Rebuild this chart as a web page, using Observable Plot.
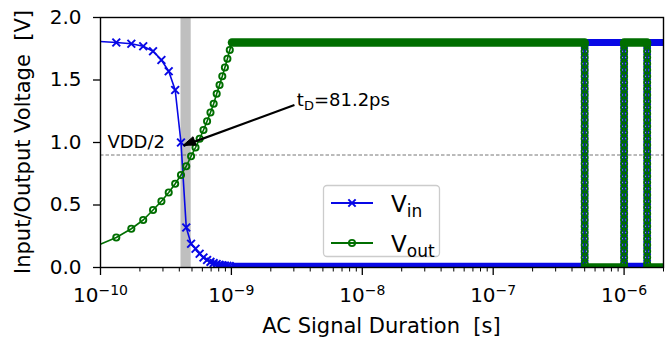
<!DOCTYPE html>
<html><head><meta charset="utf-8">
<script src="https://cdn.jsdelivr.net/npm/d3@7"></script>
<script src="https://cdn.jsdelivr.net/npm/@observablehq/plot@0.6"></script>
<style>
html,body{margin:0;padding:0;background:#fff;}
#chart{width:670px;height:340px;overflow:hidden;}
svg{font-family:"DejaVu Sans",sans-serif;}
</style></head><body><div id="chart"></div>
<script>
// ---- data ----
const sweepTime = [0.92e-10, 1.32e-10, 1.72e-10, 2.12e-10, 2.52e-10, 2.92e-10, 3.32e-10, 3.72e-10,
  4.12e-10, 4.52e-10, 4.92e-10, 5.32e-10, 5.72e-10, 6.12e-10, 6.52e-10, 6.92e-10, 7.32e-10,
  7.72e-10, 8.12e-10, 8.52e-10, 8.92e-10, 9.32e-10, 9.72e-10];
const vinSweep = [1.81, 1.80, 1.79, 1.77, 1.73, 1.66, 1.57, 1.42, 1.00, 0.32, 0.19, 0.15, 0.11,
  0.08, 0.06, 0.045, 0.035, 0.028, 0.022, 0.018, 0.015, 0.013, 0.011];
const voutSweep = [0.17, 0.24, 0.31, 0.38, 0.46, 0.53, 0.60, 0.67, 0.74, 0.81, 0.89, 0.96, 1.03,
  1.10, 1.17, 1.24, 1.31, 1.39, 1.46, 1.53, 1.60, 1.67, 1.74];
const plateauEdges = [1.01e-9, 5e-7, 1e-6, 1.5e-6, 2e-6];
const vinPlateaus = [0.01, 1.8, 0.01, 1.8];
const voutPlateaus = [1.8, 0.0, 1.8, 0.0];
const switchTimes = [5e-7, 1e-6, 1.5e-6];
const switchLevels = [1.78, 1.73, 1.68, 1.63, 1.58, 1.53, 1.48, 1.43, 1.38, 1.33, 1.28, 1.23, 1.18,
  1.13, 1.08, 1.03, 0.98, 0.93, 0.88, 0.83, 0.78, 0.73, 0.68, 0.63, 0.58, 0.53, 0.48, 0.43, 0.38,
  0.33, 0.28, 0.23, 0.18, 0.13, 0.08, 0.03];
const delayBand = [4.12e-10, 4.932e-10];
const vddHalf = 0.9;
const xMajorTicks = [1e-10, 1e-9, 1e-8, 1e-7, 1e-6];
const yTicks = [0, 0.5, 1.0, 1.5, 2.0];
const xLabel = "AC Signal Duration\u00a0 [s]";
const yLabel = "Input/Output Voltage\u00a0 [V]";
const vddLabel = "VDD/2";
const tdLabel = ["t", "D", "=81.2ps"];
const legendLabels = [["V", "in"], ["V", "out"]];
const arrowTail = {x: 3.03e-9, y: 1.30};
const arrowTip = {x: 4.33e-10, y: 0.975};
const tdAnchor = {x: 3.19e-9, y: 1.288};
const vddAnchor = {x: 1.13e-10, y: 1.006};

// ---- styles ----
const BLUE = "#0808e6", GREEN = "#006e00", FONT = "DejaVu Sans";

// ---- tables built from the arrays ----
const sweepRows = sweepTime.map((t, i) => ({t, vin: vinSweep[i], vout: voutSweep[i]}));
const plateauRows = vinPlateaus.map((v, j) => ({t1: plateauEdges[j], t2: plateauEdges[j + 1], vin: v, vout: voutPlateaus[j]}));
function pathOf(key) {
  const pts = sweepRows.map(r => ({t: r.t, v: r[key]}));
  plateauRows.forEach(p => { pts.push({t: p.t1, v: p[key]}); pts.push({t: p.t2, v: p[key]}); });
  return pts;
}
const vinPath = pathOf("vin"), voutPath = pathOf("vout");
const switchRows = switchTimes.flatMap(t => switchLevels.map(v => ({t, v})));
const minorTicks = xMajorTicks.flatMap(d => [2,3,4,5,6,7,8,9].map(k => k * d)).filter(v => v <= 2e-6);
const expTwo = xMajorTicks.filter(d => Math.round(Math.log10(d)) <= -10);
const expOne = xMajorTicks.filter(d => Math.round(Math.log10(d)) > -10);
const expFmt = d => "\u2212" + String(-Math.round(Math.log10(d)));

const plot = Plot.plot({
  width: 670, height: 340,
  marginLeft: 100, marginRight: 7, marginTop: 17, marginBottom: 73,
  style: {fontFamily: FONT, background: "white", color: "black"},
  x: {type: "log", domain: [1e-10, 2e-6]},
  y: {domain: [0, 2]},
  marks: [
    Plot.rect([delayBand], {x1: d => d[0], x2: d => d[1], y1: 0, y2: 2, fill: "#bfbfbf"}),
    Plot.ruleY([vddHalf], {stroke: "#666", strokeWidth: 0.9, strokeDasharray: "3.5,2"}),
    // Vin
    Plot.line(vinPath, {x: "t", y: "v", stroke: BLUE, strokeWidth: 1.6, clip: true}),
    Plot.link(plateauRows, {x1: "t1", x2: "t2", y1: "vin", y2: "vin", stroke: BLUE, strokeWidth: 7, strokeLinecap: "butt", clip: true}),
    Plot.dot(sweepRows, {x: "t", y: "vin", symbol: "times", r: 3.6, stroke: BLUE, strokeWidth: 2, clip: true}),
    Plot.dot(switchRows, {x: "t", y: "v", symbol: "times", r: 3.2, stroke: BLUE, strokeWidth: 1.8, clip: true}),
    // Vout
    Plot.line(voutPath, {x: "t", y: "v", stroke: GREEN, strokeWidth: 1.6, clip: true}),
    Plot.link(plateauRows, {x1: "t1", x2: "t2", y1: "vout", y2: "vout", stroke: GREEN, strokeWidth: 8.5, strokeLinecap: "round", clip: true}),
    Plot.dot(sweepRows, {x: "t", y: "vout", symbol: "circle", r: 3.1, stroke: GREEN, fill: "none", strokeWidth: 1.9, clip: true}),
    Plot.dot(switchRows, {x: "t", y: "v", symbol: "circle", r: 3.1, stroke: GREEN, fill: "none", strokeWidth: 1.9, clip: true}),
    // annotations
    Plot.link([{}], {x1: () => arrowTail.x, y1: () => arrowTail.y, x2: () => arrowTip.x, y2: () => arrowTip.y,
      stroke: "black", strokeWidth: 2.2}),
    Plot.text([vddLabel], {x: () => vddAnchor.x, y: () => vddAnchor.y, text: d => d, textAnchor: "start", lineAnchor: "middle", fontSize: 18, fill: "black"}),
    // axes
    Plot.axisY({ticks: yTicks, tickSize: 7, tickPadding: 12, tickFormat: d => d.toFixed(1), fontSize: 20, label: null, strokeWidth: 1.3}),
    Plot.axisX({ticks: xMajorTicks, tickSize: 8, tickFormat: () => "", label: null, strokeWidth: 1.3}),
    Plot.axisX({ticks: minorTicks, tickSize: 4.5, tickFormat: () => "", label: null, strokeWidth: 1}),
    Plot.axisX({ticks: expTwo, tickSize: 0, tickPadding: 20.5, tickFormat: () => "10", textAnchor: "end", dx: -2.05, fontSize: 20, label: null}),
    Plot.axisX({ticks: expTwo, tickSize: 0, tickPadding: 17.06, tickFormat: expFmt, textAnchor: "start", dx: -2.05, fontSize: 14, label: null}),
    Plot.axisX({ticks: expOne, tickSize: 0, tickPadding: 20.5, tickFormat: () => "10", textAnchor: "end", dx: 2.4, fontSize: 20, label: null}),
    Plot.axisX({ticks: expOne, tickSize: 0, tickPadding: 17.06, tickFormat: expFmt, textAnchor: "start", dx: 2.4, fontSize: 14, label: null}),
    Plot.frame({stroke: "black", strokeWidth: 1.4})
  ]
});
document.getElementById("chart").appendChild(plot);

// ---- extra text, arrow head + legend positioned with the library scales ----
const sx = plot.scale("x"), sy = plot.scale("y");
const svg = d3.select(plot);
{
  const tx = sx.apply(arrowTip.x), ty = sy.apply(arrowTip.y);
  const ax = sx.apply(arrowTail.x), ay = sy.apply(arrowTail.y);
  const len = Math.hypot(ax - tx, ay - ty), ux = (ax - tx) / len, uy = (ay - ty) / len;
  const L = 12, W = 9, bx = tx + ux * L, by = ty + uy * L, nx = -uy, ny = ux;
  svg.append("path")
    .attr("d", `M${tx},${ty}L${bx + nx * W / 2},${by + ny * W / 2}L${bx - nx * W / 2},${by - ny * W / 2}Z`)
    .attr("fill", "black").attr("stroke", "black").attr("stroke-width", 1).attr("stroke-linejoin", "round");
}
svg.append("text").attr("x", (100 + 663) / 2).attr("y", 333).attr("text-anchor", "middle")
  .attr("font-size", 21).attr("fill", "black").text(xLabel);
svg.append("text").attr("transform", `translate(30,${(17 + 267) / 2}) rotate(-90)`).attr("text-anchor", "middle")
  .attr("font-size", 21).attr("fill", "black").text(yLabel);
const td = svg.append("text").attr("x", sx.apply(tdAnchor.x)).attr("y", sy.apply(tdAnchor.y))
  .attr("text-anchor", "start").attr("font-size", 18).attr("fill", "black");
td.append("tspan").text(tdLabel[0]);
td.append("tspan").attr("font-size", 13).attr("dy", 4).text(tdLabel[1]);
td.append("tspan").attr("dy", -4).text(tdLabel[2]);
const lg = svg.append("g");
lg.append("rect").attr("x", 323.5).attr("y", 185.5).attr("width", 116).attr("height", 71).attr("rx", 3.5)
  .attr("fill", "white").attr("fill-opacity", 0.85).attr("stroke", "#cccccc").attr("stroke-width", 1.3);
const rowsY = [203, 243], cols = [BLUE, GREEN];
legendLabels.forEach((lab, i) => {
  const y = rowsY[i];
  lg.append("line").attr("x1", 331).attr("x2", 373).attr("y1", y).attr("y2", y).attr("stroke", cols[i]).attr("stroke-width", 1.8);
  if (i === 0) {
    lg.append("path").attr("d", d3.symbol(d3.symbolTimes, Math.PI * 3.4 * 3.4)()).attr("transform", `translate(352,${y})`)
      .attr("stroke", BLUE).attr("stroke-width", 2).attr("fill", "none");
  } else {
    lg.append("circle").attr("cx", 352).attr("cy", y).attr("r", 3.1).attr("stroke", GREEN).attr("stroke-width", 1.9).attr("fill", "none");
  }
  const t = lg.append("text").attr("x", 391).attr("y", y + 8.5).attr("text-anchor", "start").attr("font-size", 23).attr("fill", "black");
  t.append("tspan").text(lab[0]);
  t.append("tspan").attr("font-size", 17).attr("dy", 5.5).text(lab[1]);
});
</script></body></html>
